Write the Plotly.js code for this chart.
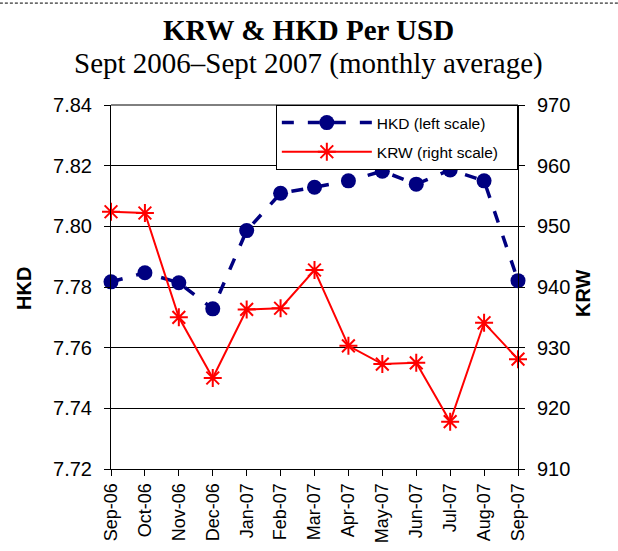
<!DOCTYPE html>
<html><head><meta charset="utf-8">
<script src="https://cdn.plot.ly/plotly-3.0.1.min.js"></script>
<style>html,body{margin:0;padding:0;background:#fff}</style>
</head><body>
<div id="chart" style="width:618px;height:551px"></div>
<script>
const months = ["Sep-06","Oct-06","Nov-06","Dec-06","Jan-07","Feb-07","Mar-07","Apr-07","May-07","Jun-07","Jul-07","Aug-07","Sep-07"];
const hkd = [7.7817,7.7847,7.7814,7.7728,7.7986,7.8109,7.8129,7.8150,7.8182,7.8139,7.8186,7.8150,7.7821];
const krw = [952.4,952.2,935.0,925.0,936.3,936.5,942.8,930.3,927.3,927.5,917.8,934.1,928.1];
const titleText = "KRW & HKD Per USD";
const subtitleText = "Sept 2006–Sept 2007 (monthly average)";

const traces = [
  {x: months, y: hkd, name: "HKD (left scale)\u00a0\u00a0\u00a0", type: "scatter", mode: "lines+markers",
   yaxis: "y", cliponaxis: false, legendgroup: "a",
   line: {color: "#000080", width: 3.5, dash: "12px,14px"},
   marker: {symbol: "circle", size: 15, color: "#000080"}},
  {x: months, y: krw, name: "KRW (right scale)\u00a0\u00a0\u00a0", type: "scatter", mode: "lines+markers",
   yaxis: "y2", cliponaxis: false, legendgroup: "b",
   line: {color: "#ff0000", width: 2},
   marker: {symbol: "asterisk-open", size: 15, color: "#ff0000", line: {color: "#ff0000", width: 2}}}
];

const sans = "Liberation Sans, Arial, sans-serif";
const serif = "Liberation Serif, Times New Roman, serif";
const axisFont = {family: sans, size: 20, color: "#000"};
const layout = {
  width: 618, height: 551,
  margin: {l: 111, r: 100, t: 105, b: 82},
  paper_bgcolor: "#fff", plot_bgcolor: "#fff",
  showlegend: true,
  xaxis: {type: "category", range: [0, 12], showgrid: false, showline: true, linecolor: "#000",
          linewidth: 1, ticks: "outside", ticklen: 6, tickcolor: "#000",
          tickangle: -90, tickfont: {family: sans, size: 18, color: "#000"}, zeroline: false},
  yaxis: {range: [7.72, 7.84], dtick: 0.02, tickformat: ".2f", showgrid: true, gridcolor: "#000",
          gridwidth: 1, showline: true, linecolor: "#000", ticks: "outside", ticklen: 6, tickcolor: "#000",
          ticklabelstandoff: 8, tickfont: axisFont, zeroline: false},
  yaxis2: {range: [910, 970], dtick: 10, overlaying: "y", side: "right", showgrid: false,
           showline: true, linecolor: "#000", ticks: "outside", ticklen: 6, tickcolor: "#000",
           ticklabelstandoff: 8, tickfont: axisFont, zeroline: false},
  legend: {x: 0.405, xanchor: "left", y: 1.0, yanchor: "top", bgcolor: "#fff",
           bordercolor: "#000", borderwidth: 1,
           font: {family: sans, size: 15.5, color: "#000"},
           tracegroupgap: 6, itemwidth: 90},
  annotations: [
    {text: "<b>" + titleText + "</b>", xref: "paper", yref: "paper", x: 0.486, y: 1.206,
     xanchor: "center", yanchor: "middle", showarrow: false,
     font: {family: serif, size: 29, color: "#000"}},
    {text: subtitleText, xref: "paper", yref: "paper", x: 0.486, y: 1.115,
     xanchor: "center", yanchor: "middle", showarrow: false,
     font: {family: serif, size: 29, color: "#000"}},
    {text: "<b>HKD</b>", xref: "paper", yref: "paper", x: -0.214, y: 0.497,
     xanchor: "center", yanchor: "middle", showarrow: false, textangle: -90,
     font: {family: sans, size: 20, color: "#000"}},
    {text: "<b>KRW</b>", xref: "paper", yref: "paper", x: 1.160, y: 0.484,
     xanchor: "center", yanchor: "middle", showarrow: false, textangle: -90,
     font: {family: sans, size: 20, color: "#000"}}
  ],
  shapes: [
    {type: "line", xref: "x domain", yref: "y domain", x0: 0, x1: 1, y0: 1, y1: 1,
     line: {color: "#000", width: 1}},
    {type: "line", xref: "paper", yref: "paper", x0: -0.273, x1: 1.246, y0: 1.28, y1: 1.28,
     line: {color: "#000", width: 1, dash: "3px,2px"}}
  ]
};
Plotly.newPlot("chart", traces, layout, {displayModeBar: false, staticPlot: true});
</script>
</body></html>
